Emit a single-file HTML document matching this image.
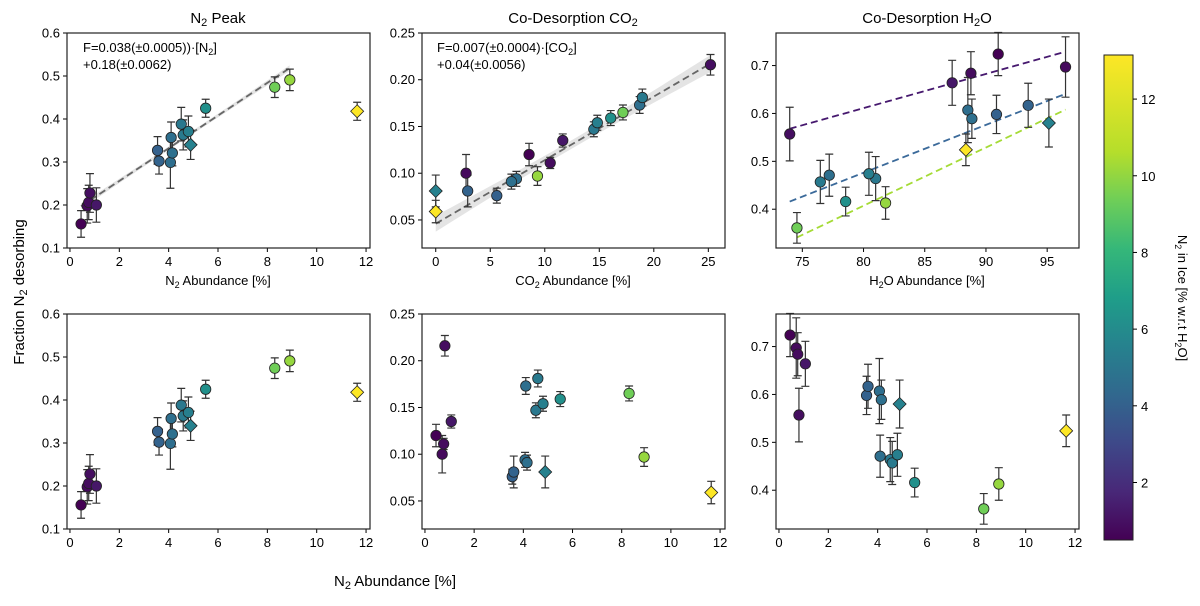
<!DOCTYPE html>
<html><head><meta charset="utf-8"><style>
body{margin:0;background:#fff}
svg{display:block;font-family:"Liberation Sans","DejaVu Sans",sans-serif}
</style></head><body>
<svg id="fig" width="1200" height="606" viewBox="0 0 1200 606">
<defs>
<linearGradient id="vir" x1="0" y1="1" x2="0" y2="0">
<stop offset="0" stop-color="#440154"/><stop offset="0.1" stop-color="#482878"/><stop offset="0.2" stop-color="#3e4989"/><stop offset="0.3" stop-color="#31688e"/><stop offset="0.4" stop-color="#26828e"/><stop offset="0.5" stop-color="#1f9e89"/><stop offset="0.6" stop-color="#35b779"/><stop offset="0.7" stop-color="#6ece58"/><stop offset="0.8" stop-color="#b5de2b"/><stop offset="1" stop-color="#fde725"/>
</linearGradient>
</defs>
</svg>
<script>
// sample data (one entry per sample)
const n2 = [0.45,0.70,0.76,0.81,1.07,3.55,3.61,4.07,4.15,4.10,4.51,4.59,4.80,4.89,5.50,8.30,8.91,11.64];
const co2 = [8.56,2.78,10.5,25.2,11.65,5.6,2.93,7.4,6.94,18.7,14.5,18.95,14.82,0,16.05,17.17,9.33,0];
const h2o = [91.0,96.5,88.77,73.97,87.24,90.86,93.45,88.52,88.85,77.2,80.99,76.47,80.44,95.14,78.54,74.56,81.8,88.36];
const peakFrac = [0.156,0.198,0.206,0.228,0.200,0.327,0.302,0.299,0.321,0.357,0.388,0.363,0.371,0.340,0.425,0.474,0.491,0.418];
const peakErr = [0.031,0.04,0.04,0.045,0.04,0.032,0.03,0.06,0.03,0.036,0.039,0.035,0.036,0.034,0.021,0.024,0.025,0.021];
const co2Frac = [0.120,0.100,0.111,0.216,0.135,0.076,0.081,0.094,0.091,0.173,0.147,0.181,0.154,0.081,0.159,0.165,0.097,0.059];
const co2Err = [0.012,0.02,0.006,0.011,0.007,0.008,0.017,0.008,0.008,0.009,0.008,0.009,0.008,0.017,0.008,0.008,0.01,0.012];
const h2oFrac = [0.724,0.697,0.684,0.557,0.664,0.598,0.617,0.607,0.589,0.471,0.464,0.457,0.474,0.580,0.416,0.361,0.413,0.524];
const h2oErr = [0.045,0.063,0.045,0.056,0.047,0.04,0.046,0.068,0.041,0.044,0.046,0.045,0.045,0.05,0.03,0.032,0.034,0.033];
const isDiamond = [0,0,0,0,0,0,0,0,0,0,0,0,0,1,0,0,0,1];
// fits
const fitN2 = [0.038, 0.18];
const fitCO2 = [0.0068, 0.046];
const fitH2O = [[73.97,0.568,96.5,0.729,'#46186e'],[73.97,0.416,96.5,0.641,'#3b6a9a'],[74.56,0.341,96.5,0.608,'#a5db36']];
const cbTicks = [2,4,6,8,10,12];

const NS='http://www.w3.org/2000/svg';
const svg=document.getElementById('fig');
function el(tag,attrs,parent){const e=document.createElementNS(NS,tag);for(const k in attrs)e.setAttribute(k,attrs[k]);(parent||svg).appendChild(e);return e;}
const vs=[[0,'#440154'],[0.1,'#482878'],[0.2,'#3e4989'],[0.3,'#31688e'],[0.4,'#26828e'],[0.5,'#1f9e89'],[0.6,'#35b779'],[0.7,'#6ece58'],[0.8,'#b5de2b'],[1,'#fde725']];
function hex(h){return [1,3,5].map(i=>parseInt(h.substr(i,2),16));}
function viridis(t){t=Math.max(0,Math.min(1,t));for(let i=0;i<vs.length-1;i++){if(t<=vs[i+1][0]){const f=(t-vs[i][0])/(vs[i+1][0]-vs[i][0]);const a=hex(vs[i][1]),b=hex(vs[i+1][1]);return 'rgb('+a.map((v,j)=>Math.round(v+(b[j]-v)*f)).join(',')+')';}}return '#fde725';}
function col(v){return viridis((v-0.45)/(11.64-0.45));}

function panel(name,X0,X1,Y0,Y1,xmin,xmax,ymin,ymax,xticks,yticks,ydec){
  const g=el('g',{});
  
  
  const sx=v=>X0+(v-xmin)/(xmax-xmin)*(X1-X0);
  const sy=v=>Y1-(v-ymin)/(ymax-ymin)*(Y1-Y0);
  xticks.forEach(t=>{const x=sx(t);el('line',{x1:x,x2:x,y1:Y1,y2:Y1+4,stroke:'#000','stroke-width':1},g);
    const tx=el('text',{x:x,y:Y1+18,'text-anchor':'middle','font-size':13},g);tx.textContent=t;
    });
  yticks.forEach(t=>{const y=sy(t);el('line',{x1:X0-4,x2:X0,y1:y,y2:y,stroke:'#000','stroke-width':1},g);
    const tx=el('text',{x:X0-7,y:y+4.5,'text-anchor':'end','font-size':13},g);tx.textContent=t.toFixed(ydec);
    });
  return {g,sx,sy,frame:()=>{const r=el('rect',{x:X0,y:Y0,width:X1-X0,height:Y1-Y0,fill:'none',stroke:'#222','stroke-width':1.2},g);}};
}
function points(p,xs,ys,es){
  xs.forEach((xv,i)=>{const x=p.sx(xv),y=p.sy(ys[i]),y1=p.sy(ys[i]-es[i]),y2=p.sy(ys[i]+es[i]);
    const eb=el('path',{d:`M${x},${y1}V${y2}M${x-4},${y1}H${x+4}M${x-4},${y2}H${x+4}`,stroke:'#333','stroke-width':1.2,fill:'none'},p.g);
    });
  xs.forEach((xv,i)=>{const x=p.sx(xv),y=p.sy(ys[i]);let m;
    if(isDiamond[i]) m=el('path',{d:`M${x},${y-6.5}L${x+6.5},${y}L${x},${y+6.5}L${x-6.5},${y}Z`,fill:col(n2[i]),stroke:'#222','stroke-width':0.8},p.g);
    else m=el('circle',{cx:x,cy:y,r:5.2,fill:col(n2[i]),stroke:'#222','stroke-width':0.8},p.g);
    });
}
function band(p,a,b,x0,x1,h0,hs,xm){
  let up=[],lo=[];for(let k=0;k<=40;k++){const x=x0+(x1-x0)*k/40;const y=a*x+b;const h=Math.sqrt(h0*h0+(hs*(x-xm))**2);up.push(p.sx(x)+','+p.sy(y+h));lo.unshift(p.sx(x)+','+p.sy(y-h));}
  const pg=el('polygon',{points:up.concat(lo).join(' '),fill:'#e4e4e4'},p.g);
  const ln=el('line',{x1:p.sx(x0),y1:p.sy(a*x0+b),x2:p.sx(x1),y2:p.sy(a*x1+b),stroke:'#666','stroke-width':1.8,'stroke-dasharray':'7,4'},p.g);
}
const t02=[0,2,4,6,8,10,12];
// Top row
const p1=panel('panel-n2-peak',67,370,33,248,-0.12,12.16,0.1,0.6,t02,[0.1,0.2,0.3,0.4,0.5,0.6],1);
band(p1,fitN2[0],fitN2[1],0.45,8.9,0.004,0.0012,4.6);
points(p1,n2,peakFrac,peakErr);p1.frame();
const p2=panel('panel-codes-co2',422,725,33,248,-1.26,26.53,0.02,0.25,[0,5,10,15,20,25],[0.05,0.10,0.15,0.20,0.25],2);
band(p2,fitCO2[0],fitCO2[1],0,25.2,0.0045,0.0006,12);
points(p2,co2,co2Frac,co2Err);p2.frame();
const p3=panel('panel-codes-h2o',776,1079,33,248,72.85,97.6,0.319,0.768,[75,80,85,90,95],[0.4,0.5,0.6,0.7],1);
fitH2O.forEach(f=>{const l=el('line',{x1:p3.sx(f[0]),y1:p3.sy(f[1]),x2:p3.sx(f[2]),y2:p3.sy(f[3]),stroke:f[4],'stroke-width':1.8,'stroke-dasharray':'7,4'},p3.g);});
points(p3,h2o,h2oFrac,h2oErr);p3.frame();
// Bottom row
const p4=panel('panel-n2-peak-vs-n2',67,370,314,529,-0.12,12.16,0.1,0.6,t02,[0.1,0.2,0.3,0.4,0.5,0.6],1);
points(p4,n2,peakFrac,peakErr);p4.frame();
const p5=panel('panel-co2-vs-n2',422,725,314,529,-0.12,12.2,0.02,0.25,t02,[0.05,0.10,0.15,0.20,0.25],2);
points(p5,n2,co2Frac,co2Err);p5.frame();
const p6=panel('panel-h2o-vs-n2',776,1079,314,529,-0.12,12.16,0.319,0.768,t02,[0.4,0.5,0.6,0.7],1);
points(p6,n2,h2oFrac,h2oErr);p6.frame();
// colorbar
const cb=el('rect',{x:1104,y:55,width:29,height:485,fill:'url(#vir)',stroke:'#222','stroke-width':1});


cbTicks.forEach(t=>{const y=540-(t-0.5)/(13.15-0.5)*485;el('line',{x1:1133,x2:1137,y1:y,y2:y,stroke:'#000'});const tx=el('text',{x:1141,y:y+5,'font-size':13});tx.textContent=t;
  
  });
</script>
<svg width="0" height="0" style="position:absolute"></svg>
<div style="position:absolute;left:0;top:0;width:1200px;height:606px;pointer-events:none;font-family:'Liberation Sans',sans-serif">
<svg width="1200" height="606" style="position:absolute;left:0;top:0">
<g font-family="Liberation Sans, DejaVu Sans, sans-serif" fill="#000">
<text x="218" y="23" text-anchor="middle" font-size="15">N<tspan font-size="11" dy="3">2</tspan><tspan dy="-3"> Peak</tspan></text>
<text x="573" y="23" text-anchor="middle" font-size="15">Co-Desorption CO<tspan font-size="11" dy="3">2</tspan></text>
<text x="927" y="23" text-anchor="middle" font-size="15">Co-Desorption H<tspan font-size="11" dy="3">2</tspan><tspan dy="-3">O</tspan></text>
<text x="83" y="52" font-size="13">F=0.038(±0.0005))·[N<tspan font-size="9" dy="3">2</tspan><tspan dy="-3">]</tspan></text>
<text x="83" y="69" font-size="13">+0.18(±0.0062)</text>
<text x="437" y="52" font-size="13">F=0.007(±0.0004)·[CO<tspan font-size="9" dy="3">2</tspan><tspan dy="-3">]</tspan></text>
<text x="437" y="69" font-size="13">+0.04(±0.0056)</text>
<text x="218" y="285" text-anchor="middle" font-size="13">N<tspan font-size="9" dy="3">2</tspan><tspan dy="-3"> Abundance [%]</tspan></text>
<text x="573" y="285" text-anchor="middle" font-size="13">CO<tspan font-size="9" dy="3">2</tspan><tspan dy="-3"> Abundance [%]</tspan></text>
<text x="927" y="285" text-anchor="middle" font-size="13">H<tspan font-size="9" dy="3">2</tspan><tspan dy="-3">O Abundance [%]</tspan></text>
<text x="395" y="586" text-anchor="middle" font-size="15">N<tspan font-size="11" dy="3">2</tspan><tspan dy="-3"> Abundance [%]</tspan></text>
<text transform="translate(24,292) rotate(-90)" text-anchor="middle" font-size="15">Fraction N<tspan font-size="11" dy="3">2</tspan><tspan dy="-3"> desorbing</tspan></text>
<text transform="translate(1178,298) rotate(90)" text-anchor="middle" font-size="13">N<tspan font-size="9" dy="3">2</tspan><tspan dy="-3"> in Ice [% w.r.t H</tspan><tspan font-size="9" dy="3">2</tspan><tspan dy="-3">O]</tspan></text>
</g></svg></div>
</body></html>
